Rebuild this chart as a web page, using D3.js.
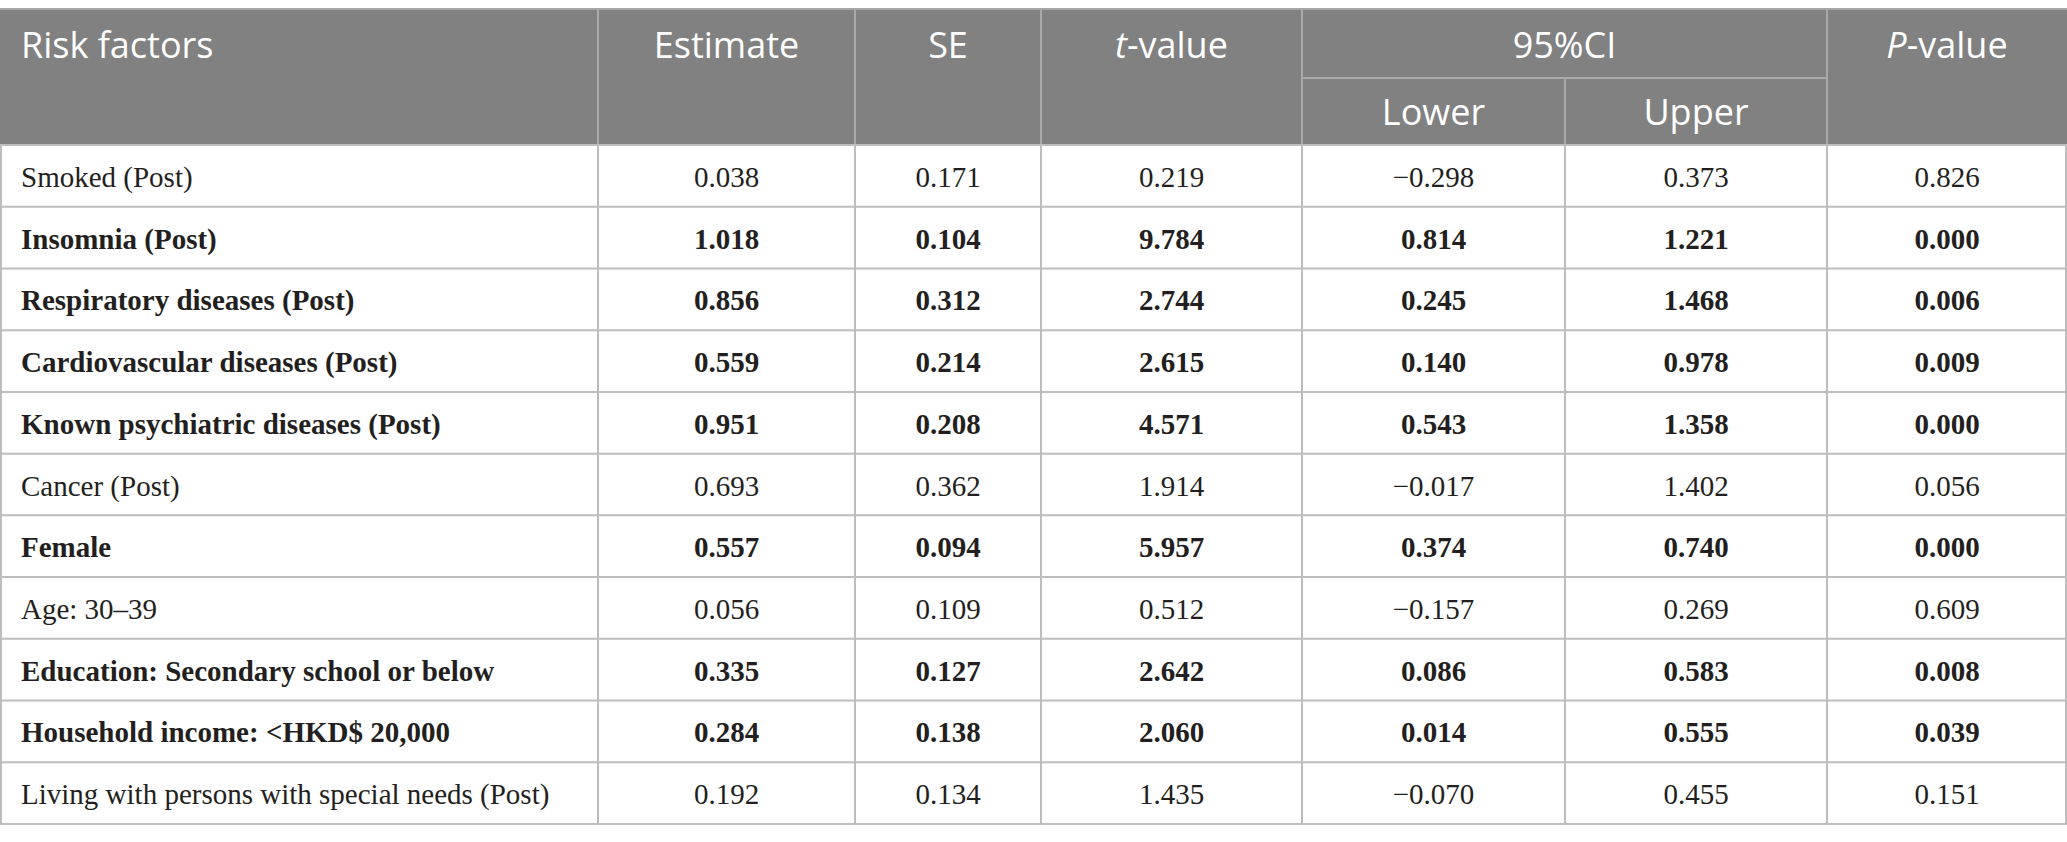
<!DOCTYPE html>
<html>
<head>
<meta charset="utf-8">
<script src="https://cdn.jsdelivr.net/npm/d3@7"></script>
<style>
  body { margin: 0; background: #fff; }
</style>
</head>
<body>
<div class="view"></div>
<script>
// table data
const factors = [
  'Smoked (Post)',
  'Insomnia (Post)',
  'Respiratory diseases (Post)',
  'Cardiovascular diseases (Post)',
  'Known psychiatric diseases (Post)',
  'Cancer (Post)',
  'Female',
  'Age: 30\u201339',
  'Education: Secondary school or below',
  'Household income: <HKD$ 20,000',
  'Living with persons with special needs (Post)'
]
const estimate = [0.038, 1.018, 0.856, 0.559, 0.951, 0.693, 0.557, 0.056, 0.335, 0.284, 0.192]
const se       = [0.171, 0.104, 0.312, 0.214, 0.208, 0.362, 0.094, 0.109, 0.127, 0.138, 0.134]
const tValue   = [0.219, 9.784, 2.744, 2.615, 4.571, 1.914, 5.957, 0.512, 2.642, 2.060, 1.435]
const lower    = [-0.298, 0.814, 0.245, 0.140, 0.543, -0.017, 0.374, -0.157, 0.086, 0.014, -0.070]
const upper    = [0.373, 1.221, 1.468, 0.978, 1.358, 1.402, 0.740, 0.269, 0.583, 0.555, 0.455]
const pValue   = [0.826, 0.000, 0.006, 0.009, 0.000, 0.056, 0.000, 0.609, 0.008, 0.039, 0.151]
const significant = [false, true, true, true, true, false, true, false, true, true, false]

const w = 2067
const h = 842

// column edges (x) and header / body bounds (y)
const colEdges = [0, 598, 855, 1041, 1302, 1565, 1827, 2067]
const tableTop = 9
const headMid = 78
const headBottom = 145
const tableBottom = 824

const fmt = d3.format('.3f')   // d3 v7 uses the real minus sign

const svg = d3.select('.view')
  .append('svg')
  .attr('width', w)
  .attr('height', h)

const yScale = d3.scaleBand()
  .domain(d3.range(factors.length))
  .range([headBottom, tableBottom])

// header background
svg.append('rect')
  .attr('x', 0)
  .attr('y', tableTop)
  .attr('width', w)
  .attr('height', headBottom - tableTop)
  .attr('fill', '#808180')

const headColor = '#a9a9a9'
const gridColor = '#bdbdbd'

// header lines
const headLines = svg.append('g').attr('stroke', headColor).attr('stroke-width', 2)
colEdges.slice(1, -1).forEach((x, i) => {
  // line between Lower and Upper only in lower half
  const y1 = (i === 4) ? headMid : tableTop
  headLines.append('line').attr('x1', x).attr('x2', x).attr('y1', y1).attr('y2', headBottom)
})
headLines.append('line')
  .attr('x1', colEdges[4]).attr('x2', colEdges[6])
  .attr('y1', headMid).attr('y2', headMid)

// header text
const headFont = "'Open Sans', 'Noto Sans', sans-serif"
const head = svg.append('g')
  .attr('fill', '#fff')
  .style('font-family', headFont)
  .style('font-size', '36px')

head.append('text')
  .attr('x', 21)
  .attr('y', 45)
  .attr('dy', '0.35em')
  .text('Risk factors')

const center = (a, b) => (colEdges[a] + colEdges[b]) / 2

head.append('text').attr('x', center(1, 2)).attr('y', 45).attr('dy', '0.35em')
  .attr('text-anchor', 'middle').text('Estimate')
head.append('text').attr('x', center(2, 3)).attr('y', 45).attr('dy', '0.35em')
  .attr('text-anchor', 'middle').text('SE')
const tv = head.append('text').attr('x', center(3, 4)).attr('y', 45).attr('dy', '0.35em')
  .attr('text-anchor', 'middle')
tv.append('tspan').style('font-style', 'italic').text('t')
tv.append('tspan').text('-value')
head.append('text').attr('x', center(4, 6)).attr('y', 45).attr('dy', '0.35em')
  .attr('text-anchor', 'middle').text('95%CI')
const pv = head.append('text').attr('x', center(6, 7)).attr('y', 45).attr('dy', '0.35em')
  .attr('text-anchor', 'middle')
pv.append('tspan').style('font-style', 'italic').text('P')
pv.append('tspan').text('-value')
head.append('text').attr('x', center(4, 5)).attr('y', 112).attr('dy', '0.35em')
  .attr('text-anchor', 'middle').text('Lower')
head.append('text').attr('x', center(5, 6)).attr('y', 112).attr('dy', '0.35em')
  .attr('text-anchor', 'middle').text('Upper')

// body grid
const grid = svg.append('g').attr('stroke', gridColor).attr('stroke-width', 2)
d3.range(factors.length + 1).forEach(i => {
  const y = i < factors.length ? yScale(i) : tableBottom
  grid.append('line').attr('x1', 0).attr('x2', w).attr('y1', y).attr('y2', y)
})
colEdges.forEach(x => {
  const xx = Math.min(Math.max(x, 1), w - 1)
  grid.append('line').attr('x1', xx).attr('x2', xx).attr('y1', headBottom).attr('y2', tableBottom)
})
// top rule
svg.append('line')
  .attr('x1', 0).attr('x2', w).attr('y1', tableTop).attr('y2', tableTop)
  .attr('stroke', '#a6a6a6').attr('stroke-width', 2)

// body rows
const rows = svg.append('g')
  .selectAll('g')
  .data(factors.map((f, i) => ({
    name: f,
    vals: [estimate[i], se[i], tValue[i], lower[i], upper[i], pValue[i]],
    bold: significant[i]
  })))
  .enter()
  .append('g')
  .attr('transform', (d, i) => 'translate(0,' + (yScale(i) + yScale.bandwidth() / 2) + ')')
  .style('font-family', "'Liberation Serif', 'DejaVu Serif', serif")
  .style('font-size', '29px')
  .style('font-weight', d => d.bold ? 'bold' : 'normal')
  .attr('fill', '#231f20')

rows.append('text')
  .attr('x', 21)
  .attr('dy', '0.38em')
  .text(d => d.name)

rows.selectAll('.num')
  .data(d => d.vals)
  .enter()
  .append('text')
  .attr('class', 'num')
  .attr('x', (d, j) => center(j + 1, j + 2))
  .attr('dy', '0.38em')
  .attr('text-anchor', 'middle')
  .text(d => fmt(d))
</script>
</body>
</html>
